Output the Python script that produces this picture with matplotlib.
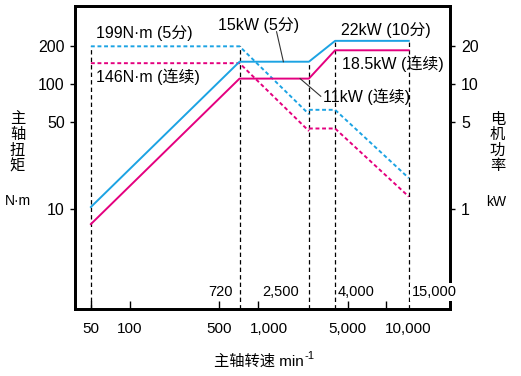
import matplotlib
matplotlib.use("Agg")
import matplotlib.pyplot as plt
from matplotlib.ticker import FixedLocator, NullLocator, FixedFormatter
from matplotlib.transforms import ScaledTranslation

plt.rcParams['font.family'] = ['Liberation Sans', 'Noto Sans CJK SC', 'DejaVu Sans']

# ---- data ----
speed_ramp = [50, 720, 2500]
speed_high = [2500, 4000, 15000]

power_5min_ramp = [1.04, 15, 15]          # kW
power_5min_high = [15, 22, 22]
power_cont_ramp = [0.76, 11, 11]
power_cont_high = [11, 18.5, 18.5]

torque_5min_a = [199, 199, 57.3]          # N·m
torque_5min_b = [62, 62, 17.7]
torque_cont_a = [146, 146, 42]
torque_cont_b = [44, 44, 12.6]

vlines_speed = [50, 720, 2500, 4000, 15000]
vlines_top = [199, 199, 150, 220, 220]    # N·m scale

xticks = [50, 100, 500, 1000, 5000, 10000]
xticklabels = ['50', '100', '500', '1,000', '5,000', '10,000']
yticks_left = [10, 50, 100, 200]
yticks_right = [1, 5, 10, 20]

BLUE = '#1CA3E3'
RED = '#E4007F'

W, H = 521, 376
fig = plt.figure(figsize=(W/100, H/100), dpi=100)
ax = fig.add_axes([75.3/W, 1-309.3/H, (450-75.3)/W, (309.3-5.7)/H])
ax.set_xscale('log'); ax.set_yscale('log')
ax.set_xlim(37.8, 31450)
ylo, yhi = 1.59, 419.6
ax.set_ylim(ylo, yhi)
ax2 = ax.twinx()
ax2.set_yscale('log')
ax2.set_ylim(ylo/10, yhi/10)

# vertical guide lines
for s, t in zip(vlines_speed, vlines_top):
    ax.plot([s, s], [ylo, t], color='black', lw=0.9, ls=(0, (3.5, 2.5)), zorder=1)

# torque (dashed, left axis)
dash = (0, (2.0, 1.4))
ax.plot(speed_ramp, torque_5min_a, color=BLUE, lw=1.4, ls=dash, zorder=2)
ax.plot(speed_high, torque_5min_b, color=BLUE, lw=1.4, ls=dash, zorder=2)
ax.plot(speed_ramp, torque_cont_a, color=RED, lw=1.4, ls=dash, zorder=2)
ax.plot(speed_high, torque_cont_b, color=RED, lw=1.4, ls=dash, zorder=2)

# power (solid, right axis)
ax2.plot(speed_ramp + speed_high[1:], power_5min_ramp + power_5min_high[1:], color=BLUE, lw=1.4, zorder=2)
ax2.plot(speed_ramp + speed_high[1:], power_cont_ramp + power_cont_high[1:], color=RED, lw=1.4, zorder=2)

# ticks
for a in (ax, ax2):
    for sp in a.spines.values():
        sp.set_linewidth(2.0)
    a.xaxis.set_minor_locator(NullLocator())
    a.yaxis.set_minor_locator(NullLocator())
ax.xaxis.set_major_locator(FixedLocator(xticks))
ax.xaxis.set_major_formatter(FixedFormatter(xticklabels))
ax.yaxis.set_major_locator(FixedLocator(yticks_left))
ax.yaxis.set_major_formatter(FixedFormatter([str(v) for v in yticks_left]))
ax2.yaxis.set_major_locator(FixedLocator(yticks_right))
ax2.yaxis.set_major_formatter(FixedFormatter([str(v) for v in yticks_right]))
ax.tick_params(axis='x', direction='in', length=5.5, width=1.0, pad=9, labelsize=11)
ax.tick_params(axis='y', direction='out', length=3.6, width=1.0, pad=4, labelsize=11.5)
ax2.tick_params(axis='y', direction='out', length=3.6, width=1.0, pad=4.5, labelsize=11.5)

# shift some x tick labels to the right, as in the reference
shifts = {'1,000': 10.7, '10,000': 22.2}
for lab in ax.get_xticklabels():
    dx = shifts.get(lab.get_text(), 0)
    if dx:
        lab.set_transform(lab.get_transform() + ScaledTranslation(dx/100, 0, fig.dpi_scale_trans))

fs = 11.5
ax.text(55, 255, '199N·m (5分)', fontsize=fs, va='center', ha='left')
ax.text(55, 114.8, '146N·m (连续)', fontsize=fs, va='center', ha='left')
ax2.text(493, 29.6, '15kW (5分)', fontsize=fs, va='center', ha='left')
ax2.text(4452, 26.7, '22kW (10分)', fontsize=fs, va='center', ha='left')
ax2.text(4510, 14.4, '18.5kW (连续)', fontsize=fs, va='center', ha='left')
ax2.text(3225, 7.95, '11kW (连续)', fontsize=fs, va='center', ha='left')
# leader lines
ax2.plot([1400, 1582], [26, 15], color='#333333', lw=0.8)
ax2.plot([2135, 3095], [11, 7.95], color='#333333', lw=0.8)

# inner speed labels
yl = 2.2
ax.text(634, yl, '720', fontsize=10.5, va='center', ha='right')
ax.text(2098, yl, '2,500', fontsize=10.5, va='center', ha='right')
ax.text(4220, yl, '4,000', fontsize=10.5, va='center', ha='left')
ax2.text(15820, yl/10, '15,000', fontsize=10.5, va='center', ha='left', zorder=10,
         bbox=dict(facecolor='white', edgecolor='none', pad=1.5))

# axis labels (stacked vertical characters)
left_label = '主轴扭矩'
right_label = '电机功率'
for i, ch in enumerate(left_label):
    fig.text(17.5/W, 1-(119.5+15.6*i)/H, ch, fontsize=11, ha='center', va='center')
for i, ch in enumerate(right_label):
    fig.text(497.5/W, 1-(120+15.4*i)/H, ch, fontsize=11, ha='center', va='center')
fig.text(17.5/W, 1-201/H, 'N·m', fontsize=10, ha='center', va='center')
fig.text(496/W, 1-202/H, 'kW', fontsize=10, ha='center', va='center')

xl = fig.text(214/W, 1-361.7/H, '主轴转速 min', fontsize=11, ha='left', va='center')
fig.canvas.draw()
bb = xl.get_window_extent()
fig.text((bb.x1 + 0.5)/W, 1-356/H, '-1', fontsize=8, ha='left', va='center')

fig.savefig('out.png', dpi=100)
